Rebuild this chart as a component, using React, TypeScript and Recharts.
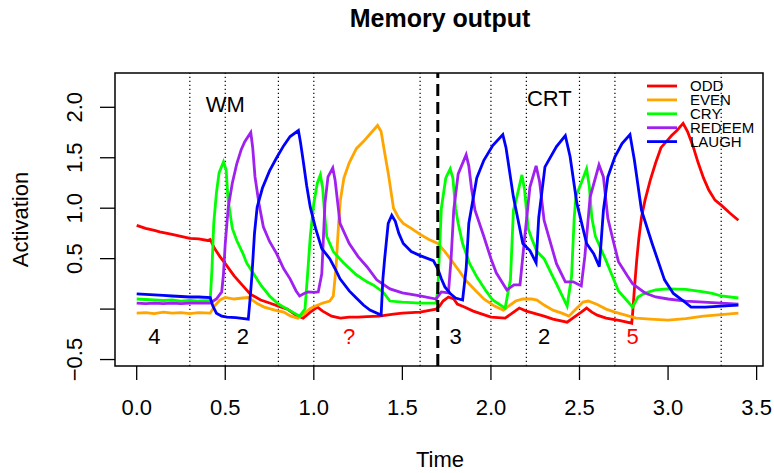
import React from "react";
import {
  LineChart,
  Line,
  XAxis,
  YAxis,
  ReferenceLine,
  ReferenceArea,
  ReferenceDot,
} from "recharts";

// ---------- data ----------
const xTicks = [0, 0.5, 1, 1.5, 2, 2.5, 3, 3.5];
const xTickLabels = ["0.0", "0.5", "1.0", "1.5", "2.0", "2.5", "3.0", "3.5"];
const yTicks = [-0.5, 0, 0.5, 1, 1.5, 2];
const yTickLabels = ["\u22120.5", "", "0.5", "1.0", "1.5", "2.0"];

const dottedLines = [0.3, 0.5, 0.8, 1.0, 1.6, 2.0, 2.2, 2.5, 2.7, 3.3];
const dashedLine = 1.7;

const seriesNames = ["ODD", "EVEN", "CRY", "REDEEM", "LAUGH"];
const seriesColors = ["#FF0000", "#FFA500", "#00FF00", "#A020F0", "#0000FF"];

const odd: [number, number][] = [
  [0, 0.83], [0.05, 0.8], [0.1, 0.78], [0.13, 0.765], [0.2, 0.74], [0.25, 0.72], [0.3, 0.7],
  [0.35, 0.695], [0.4, 0.68], [0.415, 0.69], [0.44, 0.6], [0.47, 0.52], [0.5, 0.45], [0.55, 0.33],
  [0.6, 0.23], [0.64, 0.15], [0.7, 0.09], [0.75, 0.06], [0.8, 0.03], [0.85, 0.0], [0.9, -0.06],
  [0.94, -0.09], [0.98, -0.03], [1.02, 0.02], [1.05, -0.02], [1.1, -0.07], [1.15, -0.09],
  [1.2, -0.08], [1.25, -0.08], [1.3, -0.075], [1.37, -0.07], [1.45, -0.05], [1.5, -0.04],
  [1.6, -0.03], [1.69, 0.0], [1.71, 0.03], [1.73, 0.08], [1.76, 0.12], [1.79, 0.1], [1.81, 0.05],
  [1.85, 0.02], [1.9, -0.02], [1.95, -0.05], [2.0, -0.08], [2.08, -0.09], [2.12, -0.04],
  [2.16, 0.01], [2.2, -0.02], [2.24, -0.04], [2.3, -0.07], [2.35, -0.1], [2.43, -0.13],
  [2.47, -0.08], [2.51, -0.03], [2.54, 0.01], [2.57, -0.03], [2.6, -0.06], [2.65, -0.09],
  [2.73, -0.115], [2.795, -0.14], [2.8, -0.04], [2.81, 0.2], [2.823, 0.485], [2.835, 0.7],
  [2.85, 0.91], [2.87, 1.08], [2.9, 1.28], [2.93, 1.45], [2.96, 1.6], [3.0, 1.68], [3.02, 1.72],
  [3.05, 1.77], [3.085, 1.84], [3.11, 1.76], [3.14, 1.62], [3.17, 1.45], [3.2, 1.3],
  [3.23, 1.18], [3.265, 1.08], [3.3, 1.03], [3.35, 0.95], [3.397, 0.88],
];

const even: [number, number][] = [
  [0, -0.04], [0.05, -0.035], [0.1, -0.045], [0.15, -0.03], [0.2, -0.04], [0.25, -0.035],
  [0.3, -0.045], [0.35, -0.035], [0.415, -0.04], [0.44, 0.03], [0.47, 0.09], [0.5, 0.115],
  [0.55, 0.1], [0.6, 0.11], [0.63, 0.115], [0.68, 0.056], [0.72, 0.02], [0.78, -0.01],
  [0.83, -0.03], [0.87, -0.07], [0.91, -0.09], [0.95, -0.04], [0.98, 0.007], [1.01, 0.03],
  [1.05, 0.06], [1.09, 0.08], [1.11, 0.13], [1.125, 0.4], [1.14, 0.85], [1.15, 1.08],
  [1.17, 1.3], [1.2, 1.45], [1.24, 1.59], [1.28, 1.66], [1.32, 1.74], [1.36, 1.82],
  [1.38, 1.76], [1.4, 1.55], [1.42, 1.35], [1.45, 1.0], [1.48, 0.9], [1.505, 0.85],
  [1.55, 0.8], [1.6, 0.74], [1.65, 0.69], [1.7, 0.65], [1.74, 0.57], [1.77, 0.5], [1.82, 0.38],
  [1.86, 0.28], [1.91, 0.19], [1.96, 0.1], [2.02, 0.03], [2.07, -0.01], [2.1, 0.03],
  [2.14, 0.08], [2.18, 0.1], [2.23, 0.1], [2.26, 0.09], [2.3, 0.04], [2.35, -0.01],
  [2.4, -0.04], [2.44, -0.07], [2.48, 0.0], [2.52, 0.07], [2.55, 0.08], [2.6, 0.045],
  [2.65, 0.0], [2.7, -0.03], [2.76, -0.06], [2.82, -0.09], [2.9, -0.1], [3.0, -0.11],
  [3.1, -0.095], [3.2, -0.07], [3.3, -0.055], [3.397, -0.04],
];

const cry: [number, number][] = [
  [0, 0.1], [0.05, 0.095], [0.1, 0.09], [0.15, 0.085], [0.2, 0.09], [0.25, 0.08], [0.3, 0.085],
  [0.35, 0.08], [0.415, 0.085], [0.425, 0.4], [0.435, 0.85], [0.45, 1.15], [0.465, 1.35],
  [0.49, 1.46], [0.505, 1.38], [0.515, 1.1], [0.527, 0.95], [0.54, 0.8], [0.565, 0.68],
  [0.6, 0.55], [0.62, 0.46], [0.66, 0.35], [0.7, 0.24], [0.75, 0.13], [0.8, 0.05], [0.85, 0.0],
  [0.89, -0.04], [0.92, -0.07], [0.95, 0.0], [0.965, 0.35], [0.98, 0.72], [1.0, 1.05],
  [1.02, 1.25], [1.037, 1.33], [1.05, 1.2], [1.063, 0.9], [1.073, 0.72], [1.11, 0.57],
  [1.167, 0.46], [1.24, 0.34], [1.3, 0.27], [1.335, 0.24], [1.39, 0.17], [1.43, 0.08],
  [1.5, 0.07], [1.6, 0.06], [1.69, 0.06], [1.7, 0.19], [1.72, 1.0], [1.745, 1.3], [1.77, 1.39],
  [1.785, 1.3], [1.8, 1.0], [1.815, 0.85], [1.84, 0.65], [1.88, 0.45], [1.92, 0.32],
  [1.976, 0.17], [2.01, 0.09], [2.08, 0.01], [2.11, 0.29], [2.127, 0.98], [2.146, 1.11],
  [2.175, 1.33], [2.19, 1.18], [2.21, 0.8], [2.23, 0.7], [2.26, 0.57], [2.3, 0.5], [2.35, 0.32],
  [2.37, 0.25], [2.43, 0.03], [2.455, 0.32], [2.47, 0.9], [2.48, 1.12], [2.51, 1.25],
  [2.54, 1.39], [2.555, 1.22], [2.57, 0.9], [2.59, 0.72], [2.65, 0.48], [2.68, 0.35],
  [2.72, 0.18], [2.76, 0.1], [2.8, 0.02], [2.83, 0.12], [2.87, 0.16], [2.93, 0.19], [3.0, 0.2],
  [3.1, 0.195], [3.2, 0.17], [3.25, 0.155], [3.3, 0.13], [3.397, 0.11],
];

const redeem: [number, number][] = [
  [0, 0.06], [0.05, 0.055], [0.1, 0.06], [0.15, 0.055], [0.2, 0.06], [0.25, 0.055], [0.3, 0.06],
  [0.35, 0.06], [0.415, 0.06], [0.45, 0.1], [0.48, 0.17], [0.49, 0.35], [0.5, 0.65],
  [0.517, 1.01], [0.54, 1.25], [0.565, 1.44], [0.59, 1.58], [0.61, 1.66], [0.644, 1.75],
  [0.655, 1.6], [0.668, 1.31], [0.69, 1.05], [0.715, 0.815], [0.75, 0.67], [0.79, 0.55],
  [0.83, 0.4], [0.866, 0.3], [0.9, 0.18], [0.92, 0.13], [0.95, 0.16], [0.97, 0.17], [1.0, 0.165],
  [1.025, 0.17], [1.045, 0.35], [1.063, 1.05], [1.08, 1.31], [1.107, 1.4], [1.12, 1.28],
  [1.135, 1.05], [1.148, 0.85], [1.2, 0.65], [1.25, 0.52], [1.3, 0.42], [1.355, 0.29],
  [1.43, 0.2], [1.5, 0.16], [1.6, 0.13], [1.69, 0.1], [1.72, 0.17], [1.76, 0.16], [1.775, 0.5],
  [1.79, 0.98], [1.815, 1.34], [1.86, 1.53], [1.875, 1.42], [1.89, 1.2], [1.91, 0.98],
  [1.96, 0.72], [2.0, 0.5], [2.03, 0.36], [2.09, 0.19], [2.13, 0.24], [2.164, 0.24],
  [2.19, 0.7], [2.22, 1.21], [2.255, 1.42], [2.275, 1.26], [2.3, 0.88], [2.37, 0.45],
  [2.42, 0.27], [2.465, 0.27], [2.51, 0.23], [2.53, 0.52], [2.56, 1.11], [2.61, 1.43],
  [2.635, 1.31], [2.66, 0.9], [2.69, 0.68], [2.72, 0.47], [2.77, 0.33], [2.8, 0.25],
  [2.87, 0.16], [2.93, 0.12], [3.0, 0.1], [3.1, 0.08], [3.2, 0.07], [3.3, 0.06], [3.397, 0.05],
];

const laugh: [number, number][] = [
  [0, 0.15], [0.05, 0.145], [0.1, 0.14], [0.15, 0.135], [0.2, 0.13], [0.25, 0.125], [0.3, 0.12],
  [0.35, 0.12], [0.415, 0.115], [0.43, 0.03], [0.45, -0.04], [0.48, -0.07], [0.51, -0.08],
  [0.56, -0.085], [0.63, -0.1], [0.64, 0.1], [0.65, 0.32], [0.665, 0.75], [0.68, 1.01],
  [0.71, 1.2], [0.75, 1.37], [0.79, 1.5], [0.83, 1.62], [0.866, 1.71], [0.913, 1.77],
  [0.925, 1.65], [0.94, 1.47], [0.96, 1.22], [0.98, 1.01], [1.01, 0.8], [1.045, 0.6],
  [1.09, 0.5], [1.12, 0.4], [1.148, 0.3], [1.2, 0.18], [1.24, 0.11], [1.28, 0.04],
  [1.317, -0.01], [1.38, -0.06], [1.39, 0.3], [1.4, 0.5], [1.42, 0.85], [1.44, 0.93],
  [1.46, 0.87], [1.48, 0.75], [1.505, 0.65], [1.55, 0.57], [1.6, 0.53], [1.675, 0.48],
  [1.7, 0.4], [1.72, 0.3], [1.74, 0.22], [1.77, 0.155], [1.8, 0.11], [1.84, 0.09], [1.86, 0.4],
  [1.875, 0.85], [1.89, 1.0], [1.92, 1.3], [1.96, 1.475], [2.01, 1.62], [2.067, 1.73],
  [2.085, 1.6], [2.127, 1.11], [2.18, 0.65], [2.22, 0.58], [2.255, 0.46], [2.27, 0.91],
  [2.305, 1.41], [2.37, 1.61], [2.42, 1.72], [2.447, 1.51], [2.485, 1.05], [2.54, 0.65],
  [2.58, 0.55], [2.612, 0.42], [2.635, 0.98], [2.66, 1.31], [2.7, 1.51], [2.74, 1.64],
  [2.785, 1.73], [2.81, 1.475], [2.85, 0.98], [2.91, 0.65], [2.98, 0.29], [3.03, 0.155],
  [3.08, 0.09], [3.13, 0.02], [3.21, 0.02], [3.3, 0.03], [3.397, 0.04],
];

const seriesValues = [odd, even, cry, redeem, laugh];

const annotations: { t: number; v: number; text: string; color: string }[] = [
  { t: 0.5, v: 2.03, text: "WM", color: "#000" },
  { t: 2.33, v: 2.086, text: "CRT", color: "#000" },
  { t: 0.1, v: -0.272, text: "4", color: "#000" },
  { t: 0.6, v: -0.272, text: "2", color: "#000" },
  { t: 1.2, v: -0.272, text: "?", color: "#FF0000" },
  { t: 1.8, v: -0.272, text: "3", color: "#000" },
  { t: 2.3, v: -0.272, text: "2", color: "#000" },
  { t: 2.8, v: -0.272, text: "5", color: "#FF0000" },
];

// ---------- layout ----------
const W = 774;
const H = 473;
const xDomain: [number, number] = [-0.1225, 3.536];
const yDomain: [number, number] = [-0.564, 2.34];
const FONT = "'Liberation Sans', Arial, Helvetica, sans-serif";

const XTick = (props: any) => {
  const { x, y, payload } = props;
  const i = xTicks.indexOf(payload.value);
  return (
    <text x={x} y={y + 33} textAnchor="middle" fontSize={22} fontFamily={FONT} fill="#000">
      {i >= 0 ? xTickLabels[i] : ""}
    </text>
  );
};

const YTick = (props: any) => {
  const { x, y, payload } = props;
  const i = yTicks.indexOf(payload.value);
  return (
    <text
      x={0}
      y={0}
      transform={`translate(${x - 16},${y}) rotate(-90)`}
      textAnchor="middle"
      fontSize={22}
      fontFamily={FONT}
      fill="#000"
    >
      {i >= 0 ? yTickLabels[i] : ""}
    </text>
  );
};

const AnnotationShape = (text: string, color: string) => (props: any) => (
  <text
    x={props.cx}
    y={props.cy}
    textAnchor="middle"
    dominantBaseline="central"
    fontSize={22}
    fontFamily={FONT}
    fill={color}
  >
    {text}
  </text>
);

export default function App() {
  return (
    <div style={{ position: "absolute", left: 0, top: 0, width: W, height: H, background: "#fff" }}>
      <LineChart width={W} height={H} margin={{ top: 73, right: 11, left: 10, bottom: 47 }}>
        <XAxis
          type="number"
          dataKey="t"
          domain={xDomain}
          allowDataOverflow
          ticks={xTicks}
          interval={0}
          axisLine={false}
          tickLine={{ stroke: "#000", strokeWidth: 1.3 }}
          tickSize={14}
          tickMargin={2}
          height={60}
          tick={<XTick />}
        />
        <YAxis
          type="number"
          dataKey="v"
          domain={yDomain}
          allowDataOverflow
          ticks={yTicks}
          interval={0}
          axisLine={false}
          tickLine={{ stroke: "#000", strokeWidth: 1.3 }}
          tickSize={15}
          tickMargin={2}
          width={105}
          tick={<YTick />}
        />
        {dottedLines.map((d) => (
          <ReferenceLine
            key={"d" + d}
            x={d}
            stroke="#000"
            strokeWidth={1.2}
            strokeDasharray="1.3 2.7"
          />
        ))}
        {seriesValues.map((vals, i) => (
          <Line
            key={seriesNames[i]}
            data={vals.map(([t, v]) => ({ t, v }))}
            dataKey="v"
            type="linear"
            stroke={seriesColors[i]}
            strokeWidth={2.8}
            dot={false}
            isAnimationActive={false}
            name={seriesNames[i]}
          />
        ))}
        <ReferenceLine x={dashedLine} stroke="#000" strokeWidth={3} strokeDasharray="12 6" />
        {annotations.map((a, i) => (
          <ReferenceDot
            key={"a" + i}
            x={a.t}
            y={a.v}
            r={0}
            shape={AnnotationShape(a.text, a.color)}
          />
        ))}
        <ReferenceArea
          x1={xDomain[0]}
          x2={xDomain[1]}
          y1={yDomain[0]}
          y2={yDomain[1]}
          fill="none"
          fillOpacity={0}
          stroke="#000"
          strokeWidth={1.5}
          ifOverflow="visible"
        />
      </LineChart>
      <svg
        width={W}
        height={H}
        style={{ position: "absolute", left: 0, top: 0, pointerEvents: "none" }}
      >
        <text x={440} y={27} textAnchor="middle" fontSize={25} fontWeight="bold" fontFamily={FONT}>
          Memory output
        </text>
        <text x={440} y={467} textAnchor="middle" fontSize={22} fontFamily={FONT}>
          Time
        </text>
        <text
          x={0}
          y={0}
          transform="translate(28,219.5) rotate(-90)"
          textAnchor="middle"
          fontSize={22}
          fontFamily={FONT}
        >
          Activation
        </text>
        {seriesNames.map((n, i) => (
          <g key={n}>
            <line
              x1={647}
              x2={677}
              y1={86 + i * 13.9}
              y2={86 + i * 13.9}
              stroke={seriesColors[i]}
              strokeWidth={2.8}
            />
            <text x={690} y={86 + i * 13.9 + 5.4} fontSize={15} fontFamily={FONT} fill="#000">
              {n}
            </text>
          </g>
        ))}
      </svg>
    </div>
  );
}
